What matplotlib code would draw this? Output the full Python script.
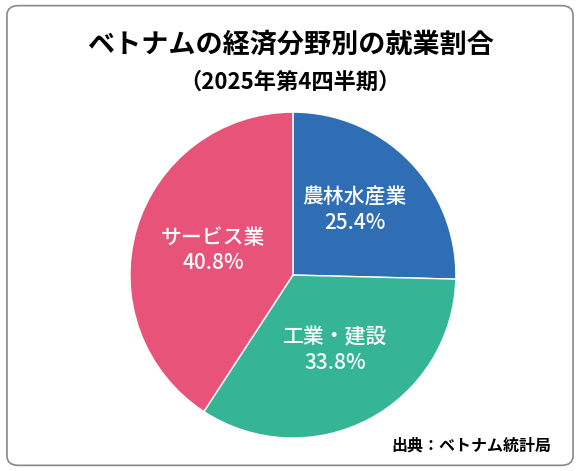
import matplotlib.pyplot as plt
from matplotlib.patches import FancyBboxPatch

plt.rcParams['font.family'] = ['Noto Sans CJK JP', 'DejaVu Sans']

sectors = ['農林水産業', '工業・建設', 'サービス業']
shares = [25.4, 33.8, 40.8]
colors = ['#2f6db5', '#35b595', '#e8537a']
label_pos = [(0.38, 0.40), (0.26, -0.46), (-0.49, 0.15)]

fig = plt.figure(figsize=(5.8, 4.71), dpi=100)
fig.patches.append(FancyBboxPatch((0.012, 0.012), 0.976, 0.976,
                                  boxstyle='round,pad=0,rounding_size=0.02',
                                  transform=fig.transFigure, fill=False,
                                  edgecolor='#888888', linewidth=1.2))

ax = fig.add_axes([0.224, 0.070, 0.562, 0.692])
ax.pie(shares, colors=colors, startangle=90, counterclock=False,
       wedgeprops={'edgecolor': 'white', 'linewidth': 1})
ax.set_xlim(-1, 1)
ax.set_ylim(-1, 1)
ax.set_aspect('equal')
for name, v, (x, y) in zip(sectors, shares, label_pos):
    ax.text(x, y, f'{name}\n{v}%', ha='center', va='center', color='white',
            fontsize=15, fontweight='medium', linespacing=1.2)

fig.text(0.5, 0.905, 'ベトナムの経済分野別の就業割合', ha='center', va='center',
         fontsize=19.5, fontweight='bold')
fig.text(0.5, 0.826, '（2025年第4四半期）', ha='center', va='center',
         fontsize=16, fontweight='bold')
fig.text(0.95, 0.055, '出典：ベトナム統計局', ha='right', va='center',
         fontsize=11.5, fontweight='bold')

fig.savefig('out.png', dpi=100)
